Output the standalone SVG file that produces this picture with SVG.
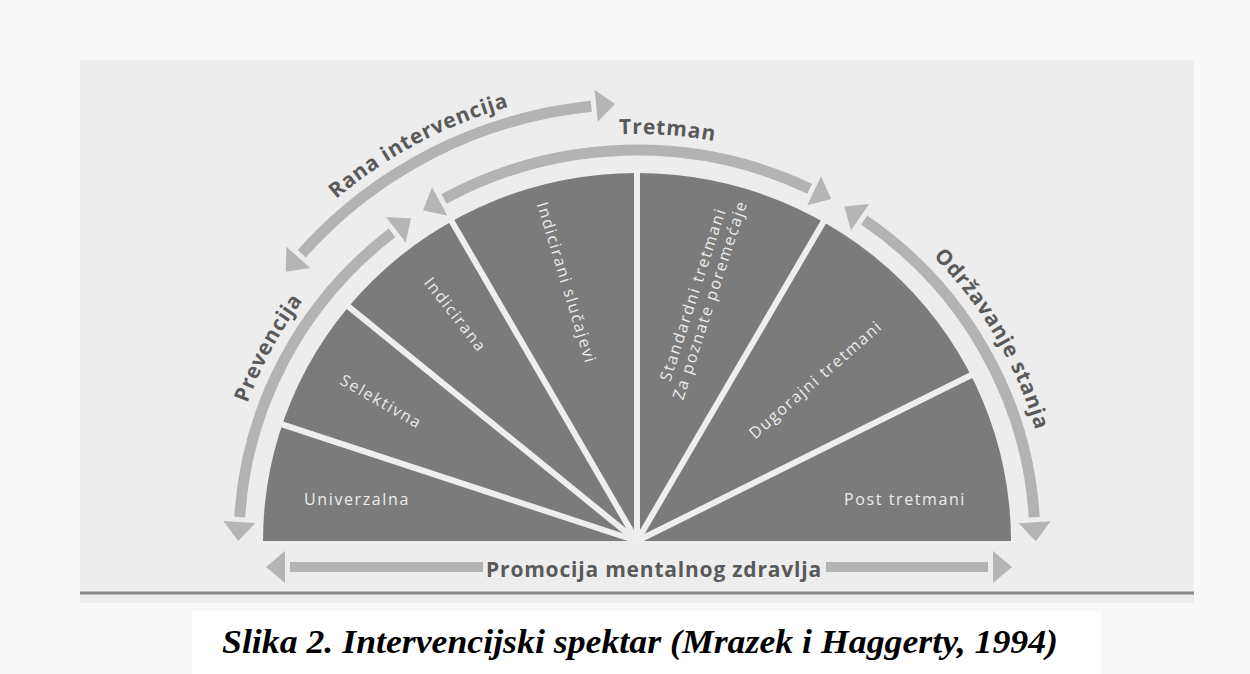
<svg xmlns="http://www.w3.org/2000/svg" width="1250" height="674" viewBox="0 0 1250 674">
<style>
.lbl{font-family:"Open Sans","Noto Sans","DejaVu Sans",sans-serif;font-weight:700;font-size:21px;fill:#5a5a5a;letter-spacing:0.8px}
.sec{font-family:"Open Sans","Noto Sans","DejaVu Sans",sans-serif;font-size:16px;fill:#ececec;letter-spacing:1.6px}
.shaft{fill:none;stroke:#b3b3b3;stroke-width:11}
.div{stroke:#eeeeee;stroke-width:6}
.cap{font-family:"Liberation Serif","Times New Roman",serif;font-weight:700;font-style:italic;font-size:34px;fill:#000}
</style>
<defs>
<marker id="ah" viewBox="0 -17 26 34" refX="0" refY="0" markerWidth="26" markerHeight="34" markerUnits="userSpaceOnUse" orient="auto-start-reverse">
<path d="M5,-16 L24,0 L5,16 Z" fill="#b5b5b5"/>
</marker>
<path id="tp-prev" d="M 227.03 484.36 A 414 407 0 0 1 359.98 238.54"/>
<path id="tp-tret" d="M 559.42 141.21 A 414 407 0 0 1 773.15 156.64"/>
<path id="tp-odr" d="M 903.11 229.22 A 414 407 0 0 1 1044.71 470.32"/>
<path id="tp-rana" d="M 292.48 241.50 A 460 452 0 0 1 569.01 93.96"/>
</defs>
<rect x="0" y="0" width="1250" height="674" fill="#f8f8f8"/>
<rect x="80" y="60" width="1114" height="543" fill="#ededed"/>
<line x1="80" y1="593" x2="1194" y2="593" stroke="#8a8a8a" stroke-width="3"/>
<rect x="192" y="611" width="909" height="63" fill="#ffffff"/>

<g id="spectrum">
<path d="M 263 541 A 374 368 0 0 1 1011 541 Z" fill="#7b7b7b"/>
<g class="div">
<line x1="637" y1="541" x2="276.0" y2="422.3"/>
<line x1="637" y1="541" x2="342.1" y2="301.3"/>
<line x1="637" y1="541" x2="446.4" y2="212.2"/>
<line x1="637" y1="541" x2="637" y2="161"/>
<line x1="637" y1="541" x2="828.7" y2="212.9"/>
<line x1="637" y1="541" x2="977.4" y2="372.0"/>
</g>
</g>

<g id="node-univerzalna"><text class="sec" x="357" y="505" text-anchor="middle">Univerzalna</text></g>
<g id="node-selektivna"><text class="sec" transform="translate(381 402) rotate(30)" x="0" y="5" text-anchor="middle">Selektivna</text></g>
<g id="node-indicirana"><text class="sec" transform="translate(455 315) rotate(52)" x="0" y="5" text-anchor="middle">Indicirana</text></g>
<g id="node-indicirani"><text class="sec" transform="translate(566 283) rotate(73)" x="0" y="5" text-anchor="middle">Indicirani slučajevi</text></g>
<g id="node-standardni"><text class="sec" transform="translate(701 297) rotate(-72)" text-anchor="middle"><tspan x="0" y="-3">Standardni tretmani</tspan><tspan x="0" y="15">Za poznate poremećaje</tspan></text></g>
<g id="node-dugorajni"><text class="sec" transform="translate(816 380) rotate(-41)" x="0" y="5" text-anchor="middle">Dugorajni tretmani</text></g>
<g id="node-post"><text class="sec" x="905" y="505" text-anchor="middle">Post tretmani</text></g>

<g id="connectors">
<path class="shaft" d="M 239.7 517.1 A 398 391 0 0 1 391.97 232.9" marker-start="url(#ah)" marker-end="url(#ah)"/>
<path class="shaft" d="M 444.05 199.02 A 398 391 0 0 1 809.60 188.68" marker-start="url(#ah)" marker-end="url(#ah)"/>
<path class="shaft" d="M 864.17 219.93 A 398 391 0 0 1 1034.27 517.27" marker-start="url(#ah)" marker-end="url(#ah)"/>
<path class="shaft" d="M 301.67 253.73 A 445 437 0 0 1 591.26 106.32" marker-start="url(#ah)" marker-end="url(#ah)"/>
<path class="shaft" style="stroke-width:10" d="M 483 567 L 290 567" marker-end="url(#ah)"/>
<path class="shaft" style="stroke-width:10" d="M 826 567 L 988 567" marker-end="url(#ah)"/>
</g>

<g id="label-prevencija"><text class="lbl"><textPath href="#tp-prev" startOffset="50%" text-anchor="middle">Prevencija</textPath></text></g>
<g id="label-tretman"><text class="lbl"><textPath href="#tp-tret" startOffset="50%" text-anchor="middle">Tretman</textPath></text></g>
<g id="label-odrzavanje"><text class="lbl"><textPath href="#tp-odr" startOffset="50%" text-anchor="middle">Održavanje  stanja</textPath></text></g>
<g id="label-rana"><text class="lbl"><textPath href="#tp-rana" startOffset="50%" text-anchor="middle">Rana intervencija</textPath></text></g>
<g id="label-promocija"><text class="lbl" x="654" y="577" text-anchor="middle">Promocija mentalnog zdravlja</text></g>

<g id="caption"><text class="cap" x="640" y="653" text-anchor="middle" textLength="836" lengthAdjust="spacingAndGlyphs">Slika 2. Intervencijski spektar (Mrazek i Haggerty, 1994)</text></g>
</svg>
